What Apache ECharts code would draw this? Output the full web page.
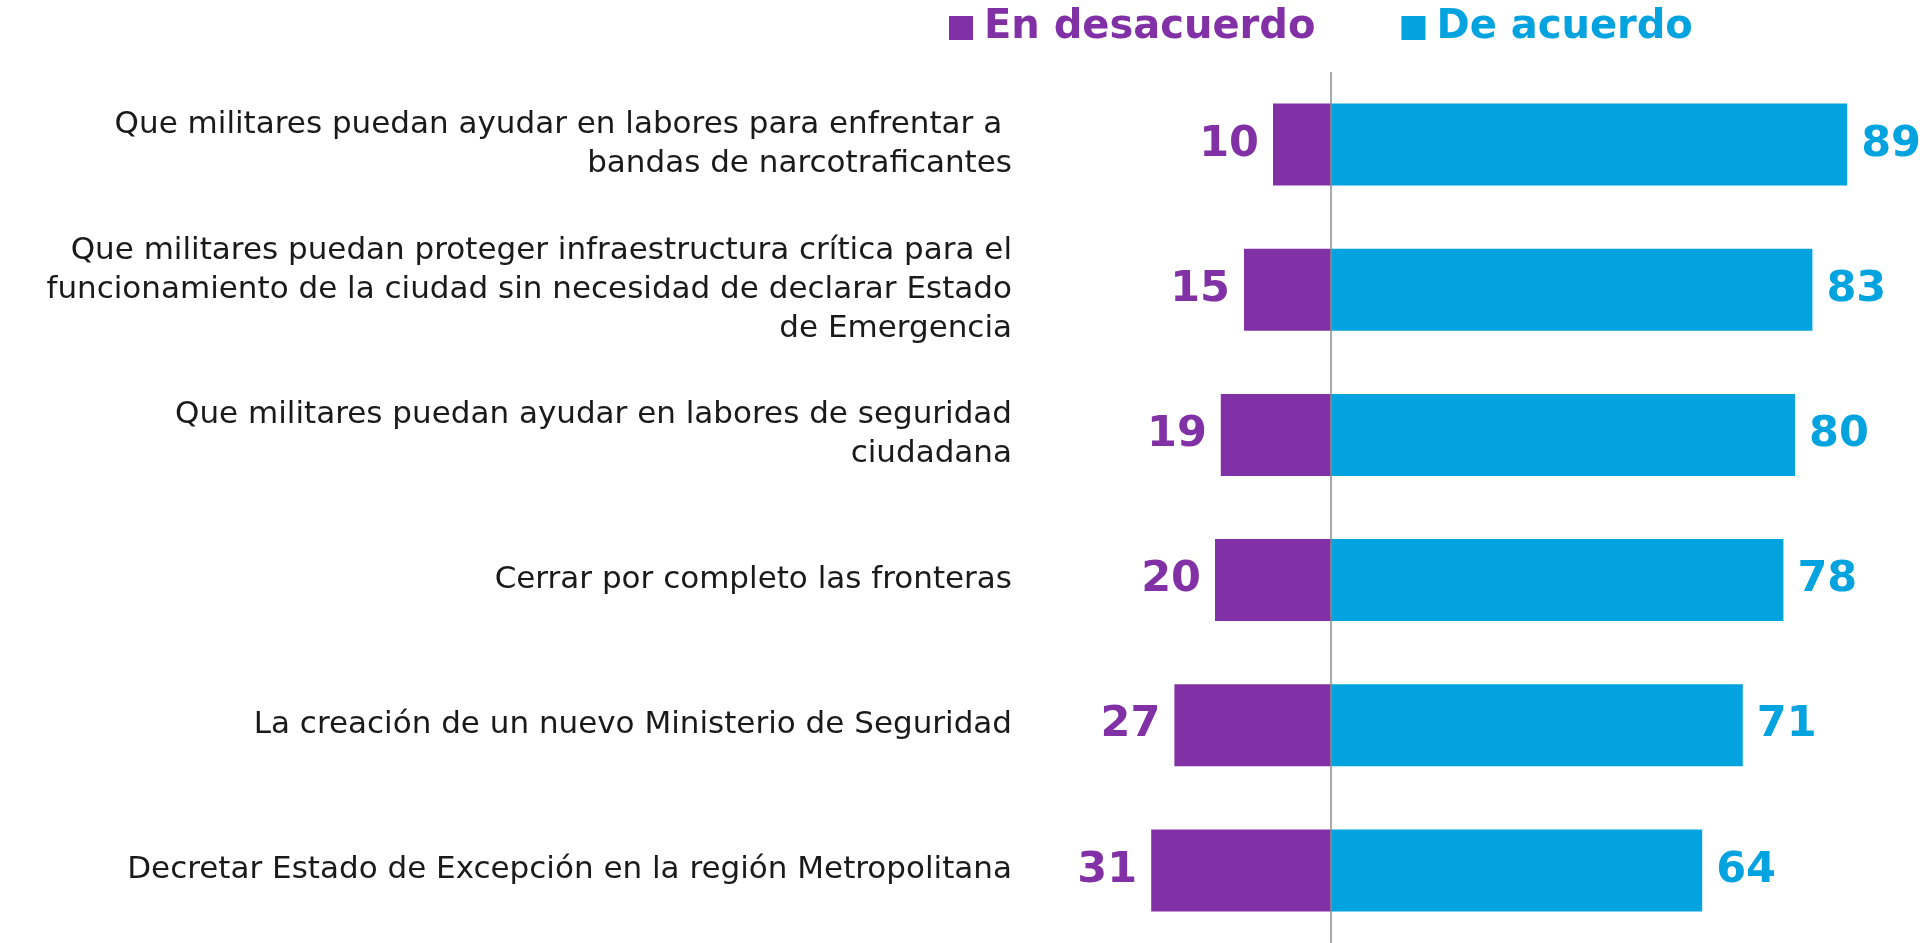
<!DOCTYPE html>
<html>
<head>
<meta charset="utf-8">
<script src="https://cdn.jsdelivr.net/npm/echarts@6/dist/echarts.min.js"></script>
<style>
  html, body { margin: 0; padding: 0; background: #ffffff; }
  #chart { width: 1931px; height: 943px; }
</style>
</head>
<body>
<div id="chart"></div>
<script>
// datos
const categorias = [
  'Que militares puedan ayudar en labores para enfrentar a \nbandas de narcotraficantes',
  'Que militares puedan proteger infraestructura crítica para el\nfuncionamiento de la ciudad sin necesidad de declarar Estado\nde Emergencia',
  'Que militares puedan ayudar en labores de seguridad\nciudadana',
  'Cerrar por completo las fronteras',
  'La creación de un nuevo Ministerio de Seguridad',
  'Decretar Estado de Excepción en la región Metropolitana'
]
const enDesacuerdo = [10, 15, 19, 20, 27, 31]
const deAcuerdo = [89, 83, 80, 78, 71, 64]

const PURPLE = '#8230A6'
const BLUE = '#03A3E0'
const FONT = 'DejaVu Sans'

const chart = echarts.init(document.getElementById('chart'))

const option = {
  animation: false,
  textStyle: { fontFamily: FONT },
  legend: {
    left: 944,
    top: 3,
    itemWidth: 24,
    itemHeight: 24,
    itemGap: 86,
    icon: 'rect',
    textStyle: { fontSize: 40, fontWeight: 'bold', fontFamily: FONT, padding: [0, 0, 0, 6] },
    data: [
      { name: 'En desacuerdo', textStyle: { color: PURPLE } },
      { name: 'De acuerdo', textStyle: { color: BLUE } }
    ]
  },
  grid: {
    left: 1041,
    right: 20,
    top: 72,
    bottom: -4
  },
  xAxis: {
    type: 'value',
    min: -50,
    max: 100,
    show: false
  },
  yAxis: {
    type: 'category',
    inverse: true,
    data: categorias,
    axisLine: { show: false },
    axisTick: { show: false },
    axisLabel: {
      margin: 29,
      fontSize: 31,
      lineHeight: 39,
      color: '#1a1a1a',
      align: 'right'
    }
  },
  series: [
    {
      name: 'En desacuerdo',
      type: 'bar',
      stack: 'total',
      barWidth: 82,
      itemStyle: { color: PURPLE },
      data: enDesacuerdo.map(v => -v),
      label: {
        show: true,
        position: 'left',
        distance: 14,
        color: PURPLE,
        fontSize: 43,
        fontWeight: 'bold',
        formatter: p => Math.abs(p.value)
      },
      markLine: {
        silent: true,
        symbol: 'none',
        label: { show: false },
        lineStyle: { color: '#8c8c8c', width: 1.5, type: 'solid' },
        data: [{ xAxis: 0 }]
      }
    },
    {
      name: 'De acuerdo',
      type: 'bar',
      stack: 'total',
      barWidth: 82,
      itemStyle: { color: BLUE },
      data: deAcuerdo,
      label: {
        show: true,
        position: 'right',
        distance: 14,
        color: BLUE,
        fontSize: 43,
        fontWeight: 'bold'
      }
    }
  ]
}

chart.setOption(option)
window.addEventListener('resize', () => chart.resize())
</script>
</body>
</html>
